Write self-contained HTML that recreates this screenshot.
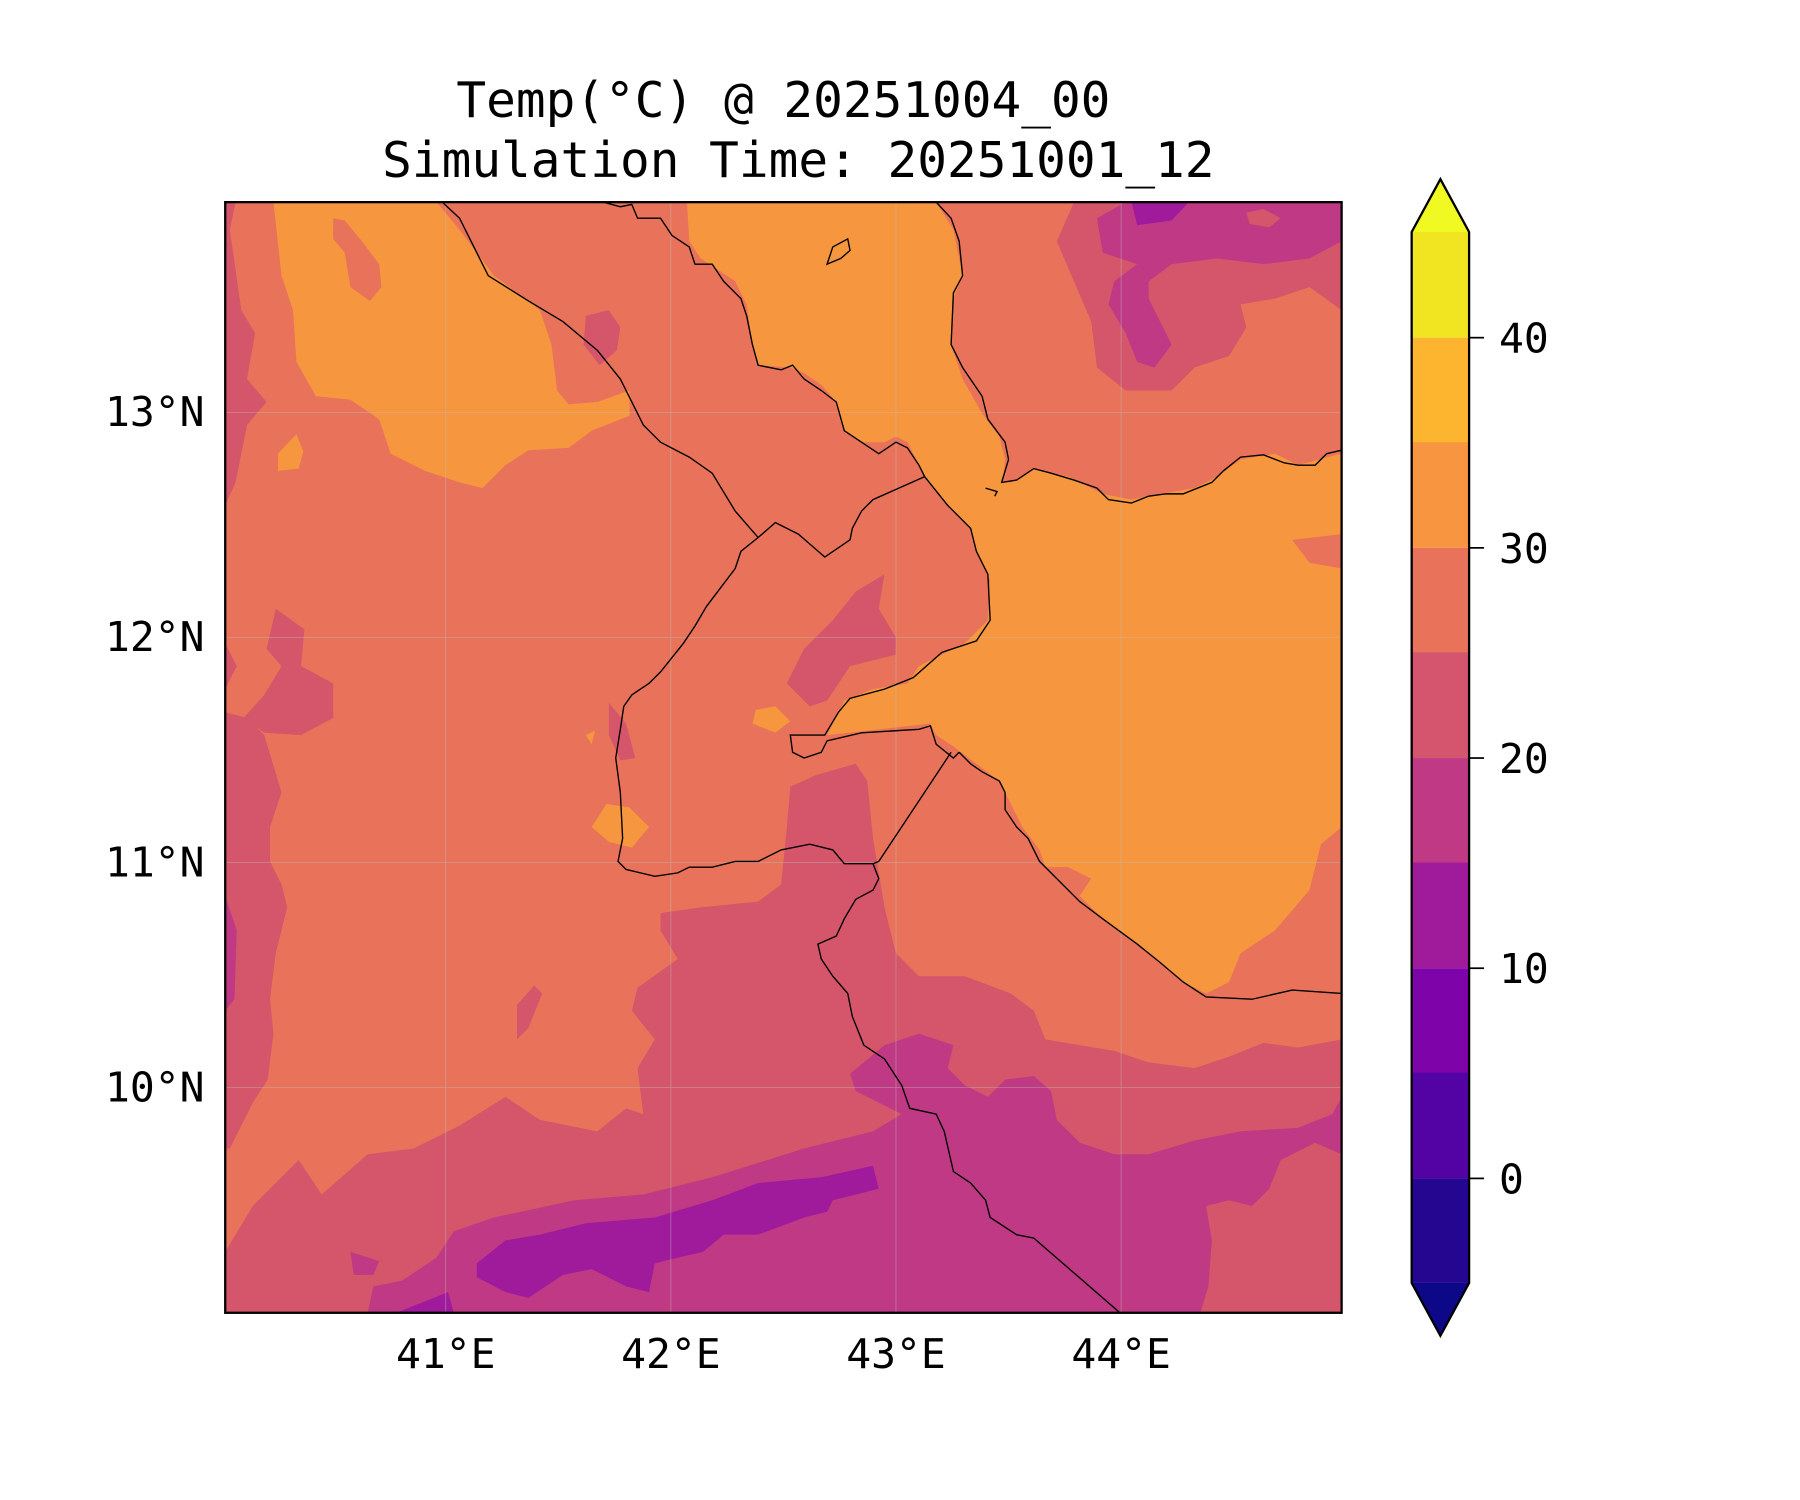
<!DOCTYPE html>
<html><head><meta charset="utf-8"><style>html,body{margin:0;padding:0;background:#fff}svg{display:block}</style></head>
<body>
<svg width="1800" height="1500" viewBox="0 0 1567 1306" xmlns="http://www.w3.org/2000/svg" font-family="DejaVu Sans Mono, Liberation Mono, monospace">
<defs><clipPath id="c"><rect x="196" y="176" width="972" height="967"/></clipPath></defs>
<text x="682" y="102" font-size="43" text-anchor="middle">Temp(°C) @ 20251004_00</text>
<text x="695" y="154" font-size="43" text-anchor="middle">Simulation Time: 20251001_12</text>
<g clip-path="url(#c)">
<rect x="196" y="176" width="972" height="967" fill="#e8735a"/>
<polygon fill="#d5556b" points="196,1090 220,1050 260,1010 280,1040 320,1005 360,1000 400,980 440,955 470,975 520,985 545,965 560,970 555,930 570,905 550,880 555,860 590,835 575,810 575,795 610,790 660,785 680,770 685,720 688,685 710,675 745,665 755,680 760,730 770,790 780,830 800,850 840,850 880,865 900,880 910,905 970,915 1000,925 1040,930 1070,920 1100,908 1130,912 1168,905 1168,1143 196,1143"/>
<polygon fill="#d5556b" points="196,176 205,176 200,200 210,270 222,290 215,330 232,350 215,370 205,420 196,440"/>
<polygon fill="#d5556b" points="196,620 215,625 230,640 245,690 235,720 235,750 245,770 250,790 240,830 235,870 238,900 233,940 220,960 200,1000 196,1000"/>
<polygon fill="#d5556b" points="240,530 265,548 262,580 290,595 290,625 262,640 230,638 212,625 230,605 245,580 232,565"/>
<polygon fill="#d5556b" points="196,560 206,580 196,600"/>
<polygon fill="#d5556b" points="530,612 545,630 553,660 540,662 530,640"/>
<polygon fill="#d5556b" points="450,875 465,858 472,865 460,895 450,905"/>
<polygon fill="#e8735a" points="305,915 320,920 345,918 360,940 305,942"/>
<polygon fill="#d5556b" points="935,176 920,210 935,245 950,280 955,320 980,340 1020,340 1040,320 1070,310 1085,285 1080,265 1110,260 1140,250 1168,270 1168,176"/>
<polygon fill="#bf3984" points="980,176 1168,176 1168,210 1140,225 1100,230 1060,225 1020,230 1000,245 1000,260 1020,300 1005,320 990,315 980,290 965,265 970,245 990,230 960,220 955,190"/>
<polygon fill="#a01a9c" points="985,176 1035,176 1020,192 990,196"/>
<polygon fill="#d5556b" points="1085,185 1100,182 1115,190 1105,198 1088,195"/>
<polygon fill="#bf3984" points="320,1143 325,1120 350,1115 380,1095 395,1072 430,1060 500,1045 560,1040 620,1025 700,1000 760,985 785,970 745,950 740,935 770,910 800,900 830,910 825,930 840,945 860,955 875,940 900,937 915,950 920,975 940,995 970,1005 1000,1005 1040,993 1080,985 1130,982 1160,970 1168,955 1168,1005 1145,995 1115,1010 1105,1035 1090,1050 1070,1045 1050,1050 1055,1080 1052,1120 1045,1143"/>
<polygon fill="#bf3984" points="305,1090 330,1098 325,1110 308,1110"/>
<polygon fill="#a01a9c" points="415,1100 440,1080 470,1075 510,1065 570,1060 620,1045 660,1030 715,1025 760,1015 765,1035 725,1045 720,1055 700,1060 660,1075 630,1075 612,1090 590,1095 570,1100 565,1125 545,1120 515,1105 490,1110 460,1130 440,1125 415,1112"/>
<polygon fill="#a01a9c" points="345,1143 390,1125 395,1143"/>
<polygon fill="#bf3984" points="196,780 206,810 204,870 196,880"/>
<polygon fill="#f6963f" points="238,176 380,176 400,200 430,240 470,270 480,300 485,340 495,352 520,350 548,340 548,362 515,375 495,390 460,392 440,405 420,425 400,420 370,410 340,395 330,365 305,348 275,345 258,315 255,270 245,240"/>
<polygon fill="#e8735a" points="290,190 300,192 315,210 330,230 332,250 322,262 305,250 300,220 290,208"/>
<polygon fill="#d5556b" points="510,275 530,270 540,285 537,305 522,318 508,300"/>
<polygon fill="#f6963f" points="242,395 258,378 264,393 260,408 242,410"/>
<polygon fill="#f6963f" points="598,176 815,176 830,200 838,240 830,260 828,300 838,330 855,360 870,380 875,400 873,420 880,420 900,408 915,412 930,415 960,430 985,435 1010,430 1040,425 1060,415 1080,400 1110,395 1130,405 1168,395 1168,465 1125,470 1140,490 1168,495 1168,720 1150,735 1140,775 1110,810 1080,830 1070,855 1050,865 1030,855 1000,830 960,800 940,780 950,765 930,755 910,755 905,740 890,720 875,690 870,680 850,665 830,650 815,640 810,630 720,640 735,610 760,600 790,595 800,580 820,570 840,560 860,540 862,505 850,480 845,460 825,440 805,415 790,385 780,380 770,385 750,385 735,375 728,350 715,335 700,325 688,320 660,318 655,300 650,265 640,245 625,235 610,225 600,210"/>
<polygon fill="#d5556b" points="745,515 770,500 765,530 780,555 780,570 740,580 720,610 705,615 685,595 700,565 725,540"/>
<polygon fill="#f6963f" points="658,618 675,615 688,628 675,638 655,630"/>
<polygon fill="#f6963f" points="528,700 548,703 565,720 550,738 530,733 515,720"/>
<polygon fill="#f6963f" points="510,640 518,636 515,648"/>
</g>
<g stroke="#bbbbbb" stroke-width="0.6" opacity="0.6">
<line x1="388" y1="176" x2="388" y2="1143"/><line x1="584" y1="176" x2="584" y2="1143"/><line x1="780" y1="176" x2="780" y2="1143"/><line x1="976" y1="176" x2="976" y2="1143"/>
<line x1="196" y1="359" x2="1168" y2="359"/><line x1="196" y1="555" x2="1168" y2="555"/><line x1="196" y1="751" x2="1168" y2="751"/><line x1="196" y1="947" x2="1168" y2="947"/>
</g>
<g fill="none" stroke="#000" stroke-width="1.2" clip-path="url(#c)">
<polyline points="385,176 400,190 425,240 460,262 490,280 520,305 540,330 560,370 575,385 600,398 620,412 640,445 660,468"/>
<polyline points="660,468 645,480 640,495 615,528 605,545 595,560 575,585 565,595 550,605 543,615 540,635 536,660 540,690 542,730 538,750 545,757 570,763 590,760 600,755 620,755 640,750 660,750 680,740 705,735 725,740 735,752 760,752"/>
<polyline points="760,752 765,765 760,775 745,783 735,800 728,815 712,822 715,835 725,850 738,865 742,885 752,910 770,922 785,945 792,965 815,970 822,985 830,1020 845,1030 858,1045 862,1060 885,1075 900,1078 975,1143"/>
<polyline points="525,176 540,180 550,178 555,190 575,190 585,205 600,215 605,230 620,230 630,245 645,260 650,275 655,300 660,318 680,322 690,318 700,330 715,340 728,350 735,375 750,385 765,395 780,385 790,390 800,405 805,415 760,435 750,445 742,460 740,470 718,485 695,465 675,455 660,468"/>
<polyline points="805,415 825,440 845,460 850,480 860,500 862,540 850,558 820,568 795,590 770,600 740,608 730,620 718,640 700,640 688,640 690,655 700,660 715,655 720,645 750,638 800,635 810,632 815,648 830,660 835,655"/>
<polyline points="828,655 765,750 760,752"/>
<polyline points="815,176 828,190 835,210 838,240 830,255 828,300 838,320 855,345 860,365 875,385 878,400 872,420 885,418 900,408 915,412 935,418 955,425 965,435 985,438 1000,432 1015,430 1030,430 1055,420 1065,410 1080,398 1100,396 1118,403 1130,405 1145,405 1155,395 1168,392"/>
<polyline points="835,655 845,665 855,672 870,680 875,690 875,705 885,720 895,730 905,750 915,760 940,785 960,800 990,822 1010,838 1030,855 1050,868 1090,870 1125,862 1168,865"/>
<polygon points="720,230 725,215 738,208 740,218 732,225"/>
<polyline points="858,425 868,428 866,432"/>
</g>
<rect x="196" y="176" width="972" height="967" fill="none" stroke="#000" stroke-width="2"/>
<g font-size="36" text-anchor="middle">
<text x="388" y="1191">41°E</text><text x="584" y="1191">42°E</text><text x="780" y="1191">43°E</text><text x="976" y="1191">44°E</text>
</g>
<g font-size="36" text-anchor="end">
<text x="178" y="371">13°N</text><text x="178" y="567">12°N</text><text x="178" y="763">11°N</text><text x="178" y="959">10°N</text>
</g>
<polygon points="1229,202 1254,156 1279,202" fill="#f0f921"/>
<rect x="1229" y="202" width="50" height="92" fill="#f1e522"/>
<rect x="1229" y="294" width="50" height="92" fill="#fdb42f"/>
<rect x="1229" y="385" width="50" height="92" fill="#f89540"/>
<rect x="1229" y="477" width="50" height="92" fill="#e8735a"/>
<rect x="1229" y="568" width="50" height="92" fill="#d5546e"/>
<rect x="1229" y="660" width="50" height="92" fill="#bf3984"/>
<rect x="1229" y="751" width="50" height="92" fill="#a01a9c"/>
<rect x="1229" y="843" width="50" height="92" fill="#7e03a8"/>
<rect x="1229" y="934" width="50" height="92" fill="#5302a3"/>
<rect x="1229" y="1026" width="50" height="91" fill="#240691"/>
<polygon points="1229,1117 1254,1163 1279,1117" fill="#0d0887"/>
<polygon points="1229,202 1254,156 1279,202 1279,1117 1254,1163 1229,1117" fill="none" stroke="#000" stroke-width="2"/>
<g stroke="#000" stroke-width="1.5">
<line x1="1279" y1="294" x2="1292" y2="294"/><line x1="1279" y1="477" x2="1292" y2="477"/><line x1="1279" y1="660" x2="1292" y2="660"/><line x1="1279" y1="843" x2="1292" y2="843"/><line x1="1279" y1="1026" x2="1292" y2="1026"/>
</g>
<g font-size="36">
<text x="1305" y="307">40</text><text x="1305" y="490">30</text><text x="1305" y="673">20</text><text x="1305" y="856">10</text><text x="1305" y="1039">0</text>
</g>
</svg>
</body></html>
